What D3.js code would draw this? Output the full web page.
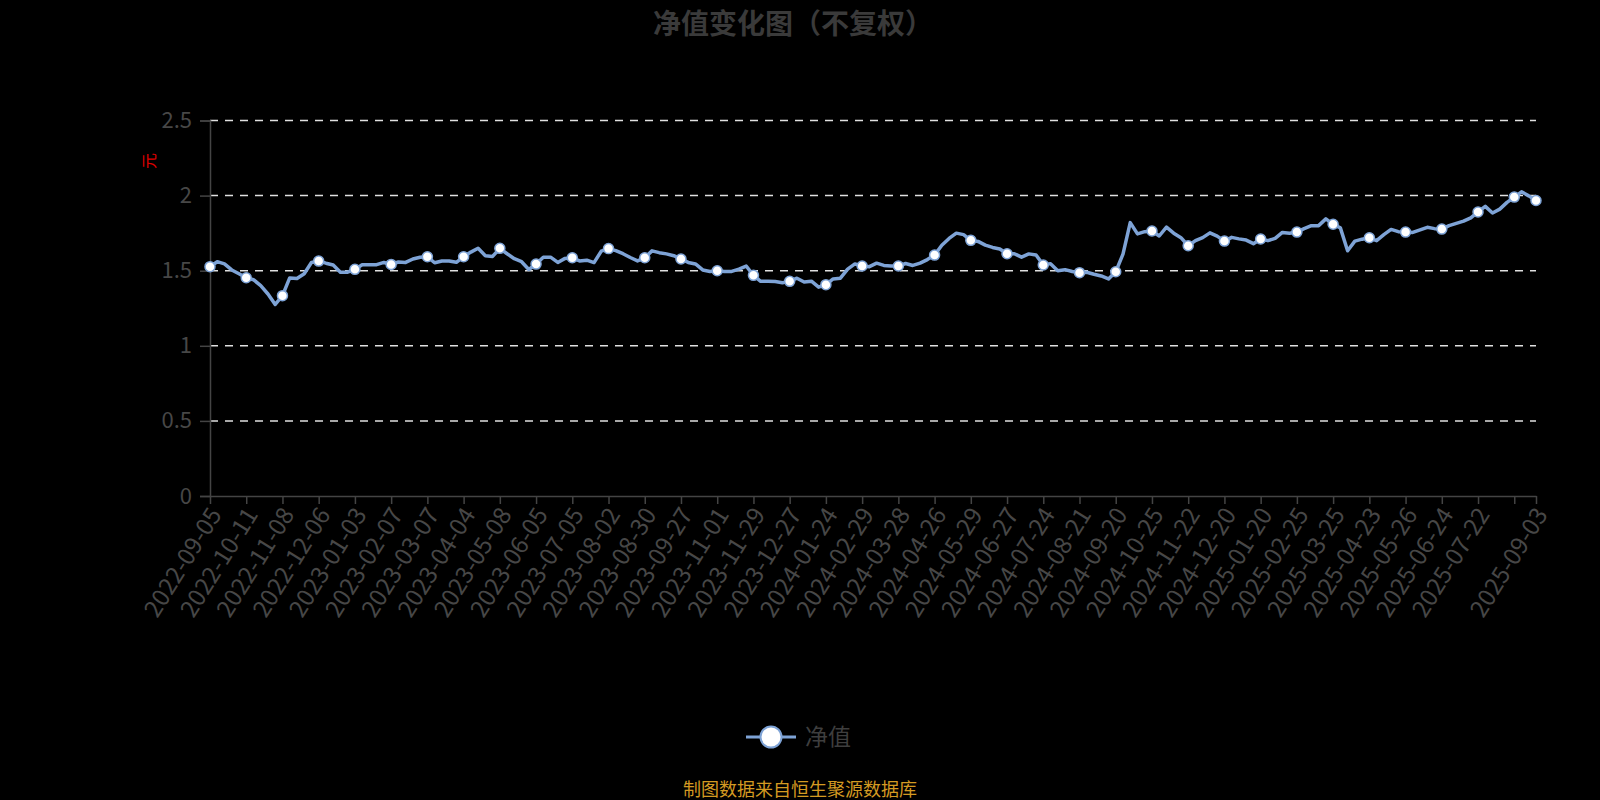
<!DOCTYPE html>
<html>
<head>
<meta charset="utf-8">
<style>
  body { margin: 0; background: #000; }
  svg text { font-family: "Noto Sans CJK SC", "Noto Sans", sans-serif; }
</style>
</head>
<body>
<svg id="chart" width="1600" height="800"></svg>
<script src="https://d3js.org/d3.v7.min.js"></script>
<script>

// one axis tick every 20 trading days, last tick is the last day
var tickDates = [
  "2022-09-05", "2022-10-11", "2022-11-08", "2022-12-06", "2023-01-03", "2023-02-07",
  "2023-03-07", "2023-04-04", "2023-05-08", "2023-06-05", "2023-07-05", "2023-08-02",
  "2023-08-30", "2023-09-27", "2023-11-01", "2023-11-29", "2023-12-27", "2024-01-24",
  "2024-02-29", "2024-03-28", "2024-04-26", "2024-05-29", "2024-06-27", "2024-07-24",
  "2024-08-21", "2024-09-20", "2024-10-25", "2024-11-22", "2024-12-20", "2025-01-20",
  "2025-02-25", "2025-03-25", "2025-04-23", "2025-05-26", "2025-06-24", "2025-07-22",
  "2025-08-19"
];
var lastDate = "2025-09-03";
var daysPerTick = 20;
var lastDay = 732;

// unit NAV read every 4 trading days (day 0, 4, 8 ... 732)
var sampleStep = 4;
var navValues = [
  1.527, 1.56, 1.545, 1.505, 1.48, 1.453, 1.44, 1.40, 1.345, 1.275,
  1.334, 1.452, 1.448, 1.48, 1.555, 1.564, 1.55, 1.538, 1.49, 1.49,
  1.509, 1.54, 1.54, 1.54, 1.555, 1.542, 1.558, 1.555, 1.578, 1.59,
  1.593, 1.553, 1.565, 1.565, 1.556, 1.593, 1.624, 1.649, 1.60, 1.595,
  1.649, 1.613, 1.58, 1.56, 1.508, 1.544, 1.589, 1.59, 1.555, 1.582,
  1.586, 1.565, 1.57, 1.554, 1.63, 1.647, 1.634, 1.613, 1.588, 1.565,
  1.586, 1.632, 1.62, 1.612, 1.60, 1.578, 1.555, 1.545, 1.505, 1.495,
  1.50, 1.494, 1.495, 1.51, 1.531, 1.469, 1.429, 1.43, 1.428, 1.42,
  1.429, 1.45, 1.425, 1.43, 1.39, 1.407, 1.445, 1.45, 1.51, 1.545,
  1.531, 1.527, 1.55, 1.535, 1.531, 1.531, 1.548, 1.535, 1.55, 1.574,
  1.604, 1.67, 1.715, 1.75, 1.74, 1.702, 1.695, 1.67, 1.655, 1.645,
  1.613, 1.613, 1.59, 1.612, 1.605, 1.538, 1.547, 1.50, 1.507, 1.495,
  1.487, 1.49, 1.476, 1.465, 1.445, 1.493, 1.61, 1.82, 1.745, 1.76,
  1.764, 1.731, 1.79, 1.75, 1.72, 1.666, 1.70, 1.72, 1.752, 1.73,
  1.697, 1.722, 1.712, 1.704, 1.68, 1.711, 1.70, 1.715, 1.755, 1.75,
  1.757, 1.78, 1.80, 1.80, 1.845, 1.809, 1.785, 1.633, 1.697, 1.71,
  1.719, 1.70, 1.74, 1.775, 1.76, 1.757, 1.755, 1.772, 1.789, 1.78,
  1.777, 1.80, 1.815, 1.83, 1.852, 1.891, 1.928, 1.884, 1.91, 1.955,
  1.99, 2.025, 1.998, 1.967
];

var yTicks = [0, 0.5, 1, 1.5, 2, 2.5];
var seriesName = "净值";
var titleText = "净值变化图（不复权）";
var unitText = "元";
var sourceText = "制图数据来自恒生聚源数据库";

var svg = d3.select("#chart");
var lineColor = "#7ea3d6";
var textColor = "#474747";

var x = d3.scaleLinear().domain([0, lastDay]).range([210, 1536]);
var y = d3.scaleLinear().domain([0, 2.5]).range([496, 120.5]);

var points = navValues.map(function(v, i) { return { day: i * sampleStep, nav: v }; });

var tickDays = tickDates.map(function(d, i) { return i * daysPerTick; }).concat([lastDay]);
var dateOfDay = {};
tickDates.forEach(function(d, i) { dateOfDay[i * daysPerTick] = d; });
dateOfDay[lastDay] = lastDate;

// title
svg.append("text")
  .attr("x", 793).attr("y", 24)
  .attr("dy", "0.35em")
  .attr("text-anchor", "middle")
  .style("font-size", "28px")
  .style("font-weight", "bold")
  .style("fill", "#3a3a3a")
  .text(titleText);

// dashed grid lines
svg.append("g")
  .selectAll("line")
  .data(yTicks.filter(function(d) { return d > 0; }))
  .enter()
  .append("line")
    .attr("x1", x(0)).attr("x2", x(lastDay))
    .attr("y1", function(d) { return y(d); })
    .attr("y2", function(d) { return y(d); })
    .style("stroke", "#e0e0e0")
    .style("stroke-width", 1.5)
    .style("stroke-dasharray", "8,7");

// y axis
var yAxis = svg.append("g")
  .attr("transform", "translate(" + x(0) + ",0)")
  .call(d3.axisLeft(y).tickValues(yTicks).tickFormat(d3.format("")).tickSize(10).tickPadding(8));
yAxis.select(".domain").style("stroke", "#444").style("stroke-width", 1.5);
yAxis.selectAll(".tick line").style("stroke", "#444").style("stroke-width", 1.5);
yAxis.selectAll(".tick text")
  .style("font-size", "22px")
  .style("fill", textColor);

// unit label
svg.append("text")
  .attr("transform", "translate(149,161) rotate(-90)")
  .attr("text-anchor", "middle")
  .attr("dy", "0.35em")
  .style("font-size", "16px")
  .style("fill", "#e00000")
  .text(unitText);

// x axis
var xAxis = svg.append("g")
  .attr("transform", "translate(0," + y(0) + ")")
  .call(d3.axisBottom(x).tickValues(tickDays)
    .tickFormat(function(d) { return dateOfDay[d]; })
    .tickSize(8).tickSizeOuter(0));
xAxis.select(".domain").style("stroke", "#444").style("stroke-width", 1.5);
xAxis.selectAll(".tick line").style("stroke", "#444").style("stroke-width", 1.5);
xAxis.selectAll(".tick text")
  .attr("x", 0).attr("y", 0).attr("dy", "0.35em")
  .attr("transform", "translate(5,14) rotate(-58)")
  .style("text-anchor", "end")
  .style("font-size", "24px")
  .style("fill", textColor)
  // hide the label that would collide with the last one
  .style("display", function(d) {
    return (d !== lastDay && x(lastDay) - x(d) < 30) ? "none" : null;
  });

// line
var line = d3.line()
  .x(function(d) { return x(d.day); })
  .y(function(d) { return y(d.nav); });

svg.append("path")
  .datum(points)
  .attr("d", line)
  .style("fill", "none")
  .style("stroke", lineColor)
  .style("stroke-width", 3.5)
  .style("stroke-linejoin", "round");

// markers at every tick day
svg.append("g")
  .selectAll("circle")
  .data(points.filter(function(d) { return d.day % daysPerTick === 0 || d.day === lastDay; }))
  .enter()
  .append("circle")
    .attr("cx", function(d) { return x(d.day); })
    .attr("cy", function(d) { return y(d.nav); })
    .attr("r", 5)
    .style("fill", "#fff")
    .style("stroke", lineColor)
    .style("stroke-width", 1.5);

// legend
var legend = svg.append("g");
legend.append("line")
  .attr("x1", 746).attr("x2", 796)
  .attr("y1", 737).attr("y2", 737)
  .style("stroke", lineColor)
  .style("stroke-width", 3);
legend.append("circle")
  .attr("cx", 771).attr("cy", 737).attr("r", 10.5)
  .style("fill", "#fff")
  .style("stroke", lineColor)
  .style("stroke-width", 2);
legend.append("text")
  .attr("x", 805).attr("y", 737)
  .attr("dy", "0.35em")
  .style("font-size", "23px")
  .style("fill", "#3e3e3e")
  .text(seriesName);

// source note
svg.append("text")
  .attr("x", 800).attr("y", 790)
  .attr("dy", "0.35em")
  .attr("text-anchor", "middle")
  .style("font-size", "18px")
  .style("fill", "#d49a22")
  .text(sourceText);

</script>
</body>
</html>
